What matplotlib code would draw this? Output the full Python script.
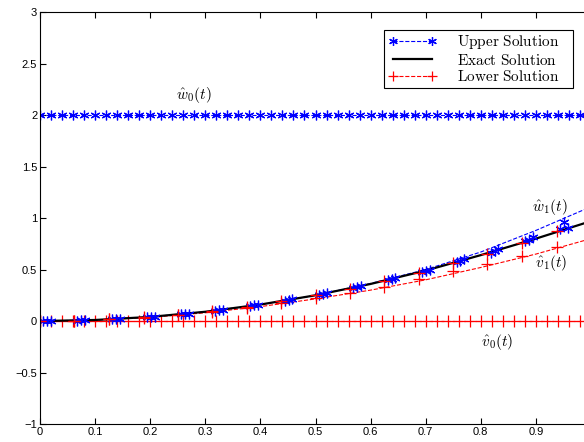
import numpy as np
import matplotlib
matplotlib.use("Agg")
import matplotlib.pyplot as plt
from matplotlib.patches import Rectangle

plt.rcParams["mathtext.fontset"] = "cm"
plt.rcParams["font.family"] = ["Liberation Sans", "DejaVu Sans"]

# ──────────────────────────────────────────────
# DADOS
# ──────────────────────────────────────────────

# grade fina para w0 = 2 e v0 = 0
T_GRADE = [round(0.02 * i, 2) for i in range(51)]
W0 = [2.0] * 51
V0 = [0.0] * 51

# curvas suaves (exata, w1, v1)
T_CURVA = [0.0, 0.1, 0.2, 0.3, 0.4, 0.5, 0.6, 0.7, 0.8, 0.9, 1.0]
EXATA   = [0.0, 0.01, 0.04, 0.09, 0.16, 0.25, 0.36, 0.49, 0.64, 0.80, 0.97]
W1      = [0.0, 0.01, 0.04, 0.09, 0.16, 0.25, 0.365, 0.50, 0.67, 0.88, 1.11]
V1      = [0.0, 0.01, 0.035, 0.08, 0.14, 0.215, 0.30, 0.40, 0.52, 0.65, 0.80]

# marcadores "+" vermelhos: um na exata, outro em v1
T_MAIS    = [0.0, 0.062, 0.125, 0.188, 0.25, 0.312, 0.375, 0.438,
             0.5, 0.562, 0.625, 0.688, 0.75, 0.812, 0.875, 0.938]
MAIS_EXATA = [0.0, 0.004, 0.016, 0.035, 0.062, 0.097, 0.14, 0.19,
              0.25, 0.315, 0.39, 0.47, 0.56, 0.655, 0.76, 0.87]
MAIS_V1    = [0.0, 0.004, 0.015, 0.033, 0.058, 0.09, 0.128, 0.172,
              0.222, 0.276, 0.335, 0.41, 0.49, 0.555, 0.63, 0.72]

# marcadores "*" azuis (aglomerados logo após cada ponto acima)
T_ESTRELA = [0.006, 0.013, 0.02,  0.068, 0.075, 0.082,  0.131, 0.138, 0.145,
             0.194, 0.201, 0.208,  0.256, 0.263, 0.27,  0.318, 0.325, 0.332,
             0.381, 0.388, 0.395,  0.444, 0.451, 0.458,  0.506, 0.513, 0.52,
             0.568, 0.575, 0.582,  0.631, 0.638, 0.645,  0.694, 0.701, 0.708,
             0.756, 0.763, 0.77,  0.818, 0.825, 0.832,  0.881, 0.888, 0.895,
             0.944, 0.951, 0.958]
Y_ESTRELA = [0.0, 0.0, 0.0,  0.005, 0.006, 0.007,  0.017, 0.019, 0.021,
             0.038, 0.04, 0.043,  0.066, 0.069, 0.073,  0.101, 0.106, 0.11,
             0.145, 0.151, 0.156,  0.197, 0.203, 0.21,  0.256, 0.263, 0.27,
             0.323, 0.33, 0.338,  0.398, 0.407, 0.416,  0.48, 0.49, 0.50,
             0.57, 0.58, 0.60,  0.665, 0.68, 0.70,  0.775, 0.79, 0.82,
             0.89, 0.96, 0.905]

AZUL, VERMELHO = (0, 0, 1), (1, 0, 0)
ASTERISCO = (6, 2, 0)   # asterisco estilo MATLAB

fig = plt.figure(figsize=(5.84, 4.42), dpi=100)
ax = fig.add_axes([0.0685, 0.0407, 0.9435, 0.932])

h_up, = ax.plot(T_GRADE, W0, "--", marker=ASTERISCO, color=AZUL, lw=0.8, ms=7, mew=0.9)
ax.plot(T_CURVA, W1, "--", color=AZUL, lw=0.8)
h_lo, = ax.plot(T_GRADE, V0, "--+", color=VERMELHO, lw=0.8, ms=8, mew=0.9)
ax.plot(T_CURVA, V1, "--", color=VERMELHO, lw=0.8)
h_ex, = ax.plot(T_CURVA, EXATA, "-", color="black", lw=1.6)
ax.plot(T_ESTRELA, Y_ESTRELA, ls="none", marker=ASTERISCO, color=AZUL, ms=7, mew=0.9)
ax.plot(T_MAIS, MAIS_EXATA, "+", color=VERMELHO, ms=8, mew=0.9, ls="none")
ax.plot(T_MAIS, MAIS_V1, "+", color=VERMELHO, ms=8, mew=0.9, ls="none")

ax.set_xlim(0, 1)
ax.set_ylim(-1, 3)
ax.set_xticks([0, 0.1, 0.2, 0.3, 0.4, 0.5, 0.6, 0.7, 0.8, 0.9])
ax.set_xticklabels(["0", "0.1", "0.2", "0.3", "0.4", "0.5", "0.6", "0.7", "0.8", "0.9"])
ax.set_yticks([-1, -0.5, 0, 0.5, 1, 1.5, 2, 2.5, 3])
ax.set_yticklabels(["\u22121", "\u22120.5", "0", "0.5", "1", "1.5", "2", "2.5", "3"])
ax.tick_params(direction="in", top=True, right=True, labelsize=8, length=4, pad=2)

ax.text(0.28, 2.16, r"$\hat{w}_0(t)$", fontsize=11, ha="center")
ax.text(0.925, 1.07, r"$\hat{w}_1(t)$", fontsize=11, ha="center")
ax.text(0.927, 0.52, r"$\hat{v}_1(t)$", fontsize=11, ha="center")
ax.text(0.83, -0.24, r"$\hat{v}_0(t)$", fontsize=11, ha="center")

# legenda sem moldura + moldura desenhada à parte (estilo MATLAB)
ax.add_patch(Rectangle((384 / 584, 1 - 88 / 442), 189 / 584, 58 / 442,
                       transform=fig.transFigure, facecolor="white",
                       edgecolor="black", lw=0.8, zorder=4, clip_on=False))
leg = ax.legend([h_up, h_ex, h_lo],
                [r"$\mathrm{Upper\ Solution}$", r"$\mathrm{Exact\ Solution}$",
                 r"$\mathrm{Lower\ Solution}$"],
                loc="upper left", bbox_to_anchor=(385 / 584, 1 - 30 / 442),
                bbox_transform=fig.transFigure, borderaxespad=0, frameon=False,
                fontsize=11, handlelength=3.2, numpoints=2, markerscale=0.9,
                labelspacing=0.1, borderpad=0.2, handletextpad=1.3)
leg.set_zorder(5)

fig.savefig("out.png", dpi=100)
